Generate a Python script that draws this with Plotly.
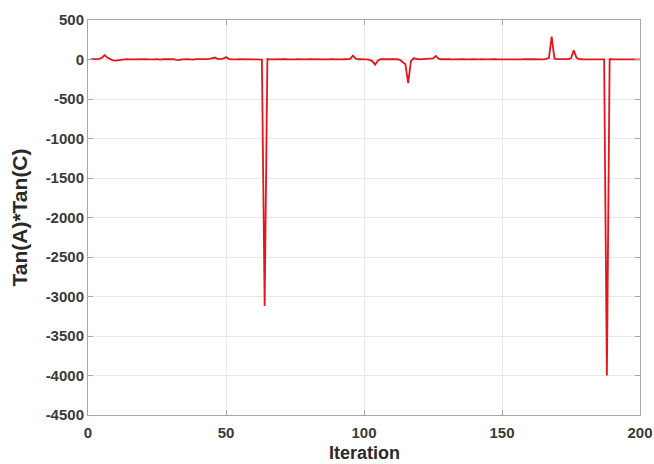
import plotly.graph_objects as go

iterations = list(range(1, 201))
tan_product = [
    3, 2, 5, 8, 20, 55, 25, 5, -10, -15,
    -8, -3, 2, 4, 1, 3, 6, 2, 8, 10,
    5, 2, -3, 1, 4, -2, 3, 5, 2, 1,
    4, -5, -8, 2, 6, 3, 1, -2, 5, 3,
    2, 6, 4, 8, 12, 25, 5, 3, 10, 30,
    8, 2, -3, 1, 4, 2, 3, 5, 2, 1,
    2, 3, 0, -3120, 5, 2, 4, 1, 3, 2,
    5, 3, 1, 4, 2, 6, 3, 1, 2, 4,
    3, 2, 5, 1, 3, 4, 2, 6, 3, 2,
    4, 1, 3, 5, 8, 50, 10, 3, 5, 2,
    1, -5, -20, -65, -15, 3, 5, 2, 6, 4,
    3, 5, -5, -30, -60, -300, -20, 15, 5, 2,
    4, 6, 3, 8, 15, 45, 10, 3, 5, 2,
    4, 1, 3, 2, 5, 3, 1, 4, 2, 3,
    2, 5, 3, 1, 4, 2, 6, 3, 2, 4,
    3, 1, 5, 2, 4, 3, 2, 5, 1, 3,
    4, 2, 3, 5, 2, 8, 20, 290, 10, 5,
    3, 2, 4, 6, 15, 115, 20, 5, 3, 2,
    4, 3, 1, 5, 2, 3, 2, -4000, 5, 3,
    2, 4, 1, 3, 5, 2, 4, 3, 2, 1,
]
x_ticks = [0, 50, 100, 150, 200]
y_ticks = [500, 0, -500, -1000, -1500, -2000, -2500, -3000, -3500, -4000, -4500]
x_title = "Iteration"
y_title = "Tan(A)*Tan(C)"

fig = go.Figure()
fig.add_trace(go.Scatter(
    x=iterations, y=tan_product, mode="lines",
    line=dict(color="#e3161d", width=1.8),
    showlegend=False,
))

font_main = "Liberation Sans, Arial, sans-serif"
axis_common = dict(
    showline=True, linecolor="#a8a8a8", linewidth=1, mirror="ticks",
    ticks="inside", ticklen=5, tickcolor="#a8a8a8", tickwidth=1,
    showgrid=True, gridcolor="#e8e8e8", gridwidth=1, zeroline=False,
    automargin=False,
    tickfont=dict(family=font_main, size=15, color="#3a3a3a", weight="bold"),
)

fig.update_layout(
    width=654, height=464,
    margin=dict(l=88, r=14, t=20, b=49),
    paper_bgcolor="white", plot_bgcolor="white",
    xaxis=dict(
        range=[0, 200], tickvals=x_ticks, ticktext=[str(v) for v in x_ticks],
        ticklabelstandoff=4,
        **axis_common,
    ),
    yaxis=dict(
        range=[-4500, 500], tickvals=y_ticks, ticktext=[str(v) for v in y_ticks],
        **axis_common,
    ),
)

fig.add_annotation(
    text=x_title, xref="paper", yref="paper", x=0.5, y=-0.124,
    xanchor="center", yanchor="bottom", showarrow=False, borderpad=0,
    font=dict(family=font_main, size=18, color="#2a2a2a", weight="bold"),
)
fig.add_annotation(
    text=y_title, xref="paper", yref="paper", x=-0.125, y=0.5,
    xanchor="center", yanchor="middle", textangle=-90, showarrow=False,
    font=dict(family=font_main, size=21, color="#2a2a2a", weight="bold"),
)

fig.write_html("out.html")
